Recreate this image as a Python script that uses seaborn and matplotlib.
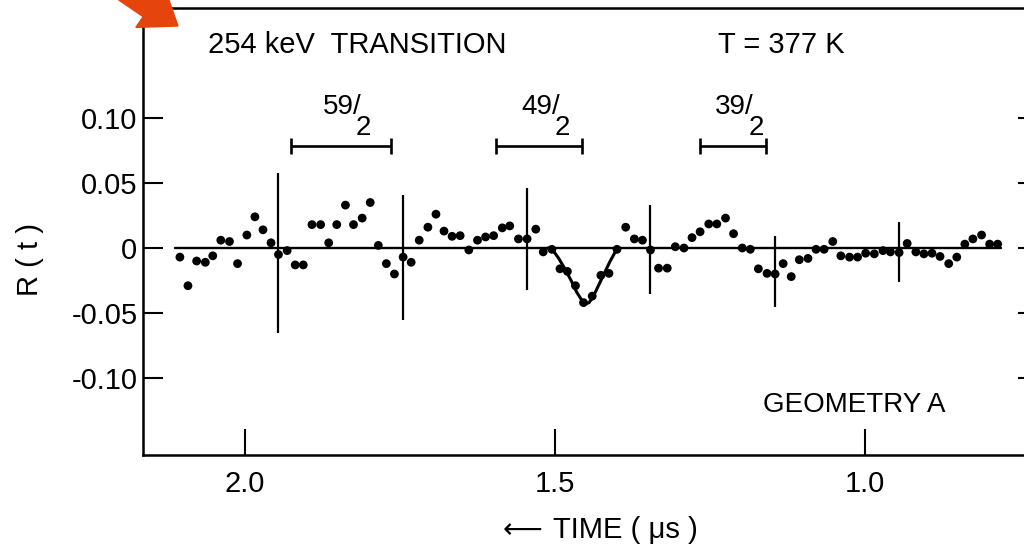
import matplotlib
matplotlib.use("Agg")
import matplotlib.pyplot as plt
import numpy as np
import pandas as pd
import seaborn as sns
from matplotlib.patches import FancyArrow
from matplotlib.transforms import IdentityTransform

# ---------------- data ----------------
time_us = [2.105, 2.092, 2.078, 2.064, 2.052, 2.039, 2.025, 2.012, 1.997, 1.984,
           1.971, 1.958, 1.946, 1.932, 1.919, 1.906, 1.892, 1.878, 1.865, 1.852,
           1.838, 1.825, 1.811, 1.798, 1.785, 1.772, 1.759, 1.745, 1.732, 1.719,
           1.705, 1.692, 1.679, 1.666, 1.653, 1.639, 1.625, 1.612, 1.599, 1.585,
           1.573, 1.559, 1.545, 1.531, 1.519, 1.505, 1.492, 1.480, 1.467, 1.454,
           1.440, 1.426, 1.413, 1.400, 1.386, 1.372, 1.359, 1.346, 1.333, 1.319,
           1.306, 1.292, 1.279, 1.266, 1.252, 1.239, 1.225, 1.212, 1.198, 1.185,
           1.172, 1.158, 1.145, 1.132, 1.119, 1.106, 1.092, 1.079, 1.066, 1.052,
           1.039, 1.025, 1.012, 0.999, 0.985, 0.971, 0.959, 0.945, 0.932, 0.918,
           0.905, 0.892, 0.879, 0.865, 0.852, 0.839, 0.826, 0.812, 0.799, 0.786]
r_values = [-0.007, -0.029, -0.010, -0.011, -0.006, 0.006, 0.005, -0.012, 0.010, 0.024,
            0.014, 0.004, -0.005, -0.002, -0.013, -0.013, 0.018, 0.018, 0.004, 0.018,
            0.033, 0.018, 0.023, 0.035, 0.002, -0.012, -0.020, -0.007, -0.011, 0.006,
            0.016, 0.026, 0.013, 0.009, 0.0095, -0.0015, 0.006, 0.0085, 0.0095, 0.0155,
            0.017, 0.007, 0.007, 0.0145, -0.003, -0.001, -0.016, -0.018, -0.029, -0.042,
            -0.037, -0.021, -0.0195, -0.001, 0.016, 0.007, 0.006, -0.0015, -0.0155, -0.0155,
            0.001, 0.000, 0.008, 0.0125, 0.0185, 0.0185, 0.023, 0.011, 0.000, -0.001,
            -0.016, -0.0195, -0.020, -0.012, -0.022, -0.009, -0.008, -0.001, -0.001, 0.005,
            -0.006, -0.007, -0.007, -0.004, -0.0045, -0.002, -0.003, -0.0035, 0.0035, -0.003,
            -0.0045, -0.004, -0.0065, -0.012, -0.007, 0.003, 0.007, 0.010, 0.003, 0.003]

# error bars (every 0.2 us)
err_t = [1.946, 1.745, 1.545, 1.346, 1.145, 0.945]
err_hi = [0.058, 0.041, 0.046, 0.033, 0.009, 0.020]
err_lo = [-0.065, -0.055, -0.032, -0.035, -0.045, -0.026]

# fitted dip
fit_t = [1.512, 1.503, 1.494, 1.484, 1.474, 1.465, 1.457, 1.451, 1.445, 1.438,
         1.430, 1.421, 1.412, 1.404, 1.397]
fit_r = [0.000, -0.002, -0.008, -0.016, -0.025, -0.034, -0.040, -0.043, -0.042, -0.037,
         -0.029, -0.020, -0.011, -0.004, 0.000]

baseline_t = [2.113, 0.780]

# spin-state ranges
spin_labels = ["59", "49", "39"]
spin_start = [1.926, 1.595, 1.266]
spin_end = [1.765, 1.456, 1.160]
spin_level = 0.0785

xticks = [2.0, 1.5, 1.0]
xtick_labels = ["2.0", "1.5", "1.0"]
yticks = [-0.10, -0.05, 0.0, 0.05, 0.10]
ytick_labels = ["-0.10", "-0.05", "0", "0.05", "0.10"]

# ---------------- style ----------------
sns.set_theme(style="white")
plt.rcParams["font.family"] = ["Liberation Sans", "DejaVu Sans"]
plt.rcParams["text.color"] = "black"
FS = 21

fig = plt.figure(figsize=(10.24, 5.52), dpi=100)
ax = fig.add_axes([143 / 1024, 1 - 455 / 552, (1038 - 143) / 1024, (455 - 8) / 552])

df = pd.DataFrame({"t": time_us, "R": r_values})
fit_df = pd.DataFrame({"t": fit_t, "R": fit_r})

ax.plot(baseline_t, [0, 0], color="black", lw=1.7, zorder=2)
ax.vlines(err_t, err_lo, err_hi, colors="black", lw=1.6, zorder=3)
sns.lineplot(data=fit_df, x="t", y="R", ax=ax, color="black", lw=2.2,
             sort=False, estimator=None, zorder=3)
sns.scatterplot(data=df, x="t", y="R", ax=ax, s=40, color="black",
                edgecolor="none", linewidth=0, zorder=4)

for lab, s, e in zip(spin_labels, spin_start, spin_end):
    c = (s + e) / 2
    ax.errorbar(x=c, y=spin_level, xerr=abs(s - e) / 2, fmt="none", ecolor="black",
                elinewidth=1.9, capsize=5.5, capthick=1.9, zorder=3)
    ax.annotate(lab + "/", xy=(c, spin_level), xytext=(1, 28), textcoords="offset points",
                ha="center", va="center", fontsize=20)
    ax.annotate("2", xy=(c, spin_level), xytext=(16.5, 13), textcoords="offset points",
                ha="center", va="center", fontsize=20)

ax.set_xlim(2.1645, 0.721)
ax.set_ylim(-0.1592, 0.1846)
ax.set_xticks(xticks)
ax.set_xticklabels(xtick_labels)
ax.set_yticks(yticks)
ax.set_yticklabels(ytick_labels)
ax.set_xlabel("")
ax.set_ylabel("")

ax.tick_params(axis="x", direction="in", length=18.5, width=1.5, pad=11,
               labelsize=FS, colors="black", bottom=True, top=False)
ax.tick_params(axis="y", direction="in", length=14.5, width=1.5, pad=4,
               labelsize=FS, colors="black", left=True, right=True, labelright=False)
for sp in ax.spines.values():
    sp.set_visible(True)
    sp.set_color("black")
    sp.set_linewidth(1.8)
ax.grid(False)
ax.set_facecolor("white")

fig.text(208 / 1024, 1 - 45 / 552, "254 keV  TRANSITION", ha="left", va="center", fontsize=FS)
fig.text(718 / 1024, 1 - 45 / 552, "T = 377 K", ha="left", va="center", fontsize=FS)
fig.text(763 / 1024, 1 - 405 / 552, "GEOMETRY A", ha="left", va="center", fontsize=20)
fig.text(30 / 1024, 1 - 260 / 552, "R ( t )", ha="center", va="center", rotation=90, fontsize=FS)
fig.text(522 / 1024, 1 - 530 / 552, "\u27f5", ha="center", va="center", fontsize=20,
         family=["DejaVu Sans"])
fig.text(553 / 1024, 1 - 530 / 552, "TIME ( \u03bcs )", ha="left", va="center", fontsize=FS)

arrow = FancyArrow(70, 552 + 48, 108, -74, width=24, head_width=50, head_length=34,
                   length_includes_head=True, color="#E5450C", transform=IdentityTransform(),
                   clip_on=False, zorder=10)
fig.add_artist(arrow)

fig.savefig("out.png", dpi=100, facecolor="white")
